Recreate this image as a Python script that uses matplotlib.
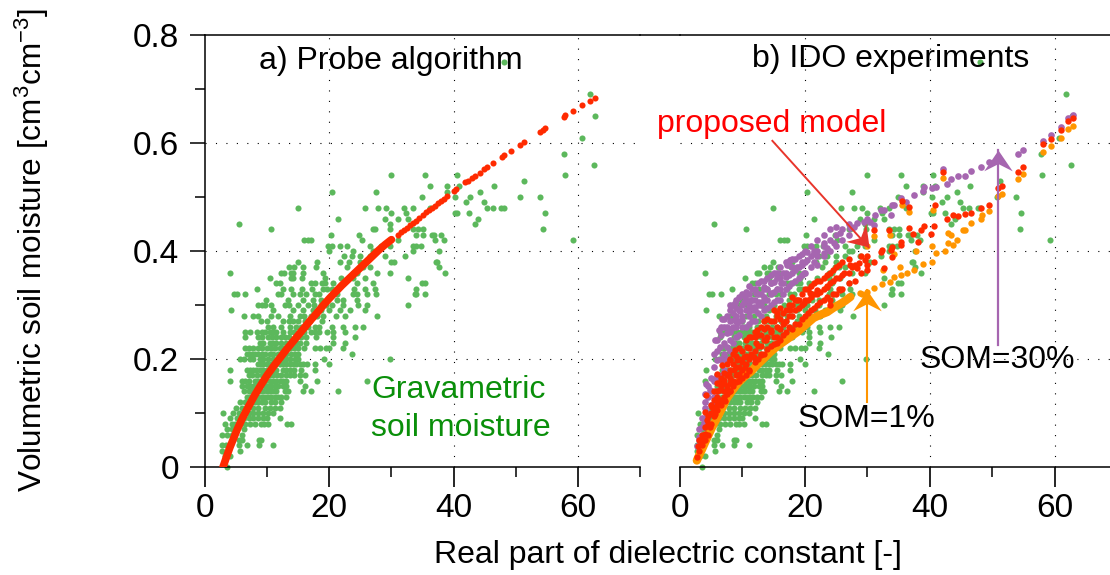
import math

import matplotlib
matplotlib.use('Agg')
import matplotlib.pyplot as plt
from matplotlib.lines import Line2D
from matplotlib.path import Path
from matplotlib.transforms import Affine2D

plt.rcParams['font.family'] = ['Liberation Sans', 'DejaVu Sans']
plt.rcParams['mathtext.default'] = 'regular'

# gravimetric samples come in 0.01 steps, so x values are listed per moisture level
green_levels = [0.00, 0.02, 0.03, 0.04, 0.05, 0.06, 0.07, 0.08, 0.09, 0.10,
                0.11, 0.12, 0.13, 0.14, 0.15, 0.16, 0.17, 0.18, 0.19, 0.20,
                0.21, 0.22, 0.23, 0.24, 0.25, 0.26, 0.27, 0.28, 0.29, 0.30,
                0.31, 0.32, 0.33, 0.34, 0.35, 0.36, 0.37, 0.38, 0.39, 0.40,
                0.41, 0.42, 0.43, 0.44, 0.45, 0.46, 0.47, 0.48, 0.49, 0.50,
                0.51, 0.52, 0.53, 0.54, 0.56, 0.58, 0.61, 0.65, 0.69, 0.75]
green_x = [
    [3.5],
    [3.2, 4],
    [2.8, 5.6],
    [2.8, 3.3, 5.4, 6.8, 8.7, 11],
    [5.4, 5.9, 8.7, 9],
    [2.8, 3.5, 4.3, 5.9],
    [3.5, 4.3, 4.8, 6.2],
    [3.2, 4.3, 4.8, 5.6, 6.4, 7.2, 8, 9, 9.5, 10.2, 13.2, 13.8],
    [4, 5.1, 6.2, 7, 7.8, 8.6, 9.4, 9.9, 12],
    [2.9, 4.5, 5.4, 6.2, 7, 7.8, 8.6, 9.4, 10.2, 11],
    [5, 5.9, 6.7, 7.8, 8.6, 9.6, 10.4, 11.2, 12],
    [5.6, 6.4, 7.5, 8, 8.6, 9.1, 9.6, 10.7, 11.3, 12.3],
    [6.7, 7.2, 8, 8.6, 9.1, 9.6, 10.2, 10.7, 11.2, 11.7, 12.3, 13],
    [6.2, 7, 7.8, 8.3, 8.8, 9.4, 9.9, 10.4, 11, 11.5, 12.9, 13.4, 15.8, 17.1, 21.4],
    [5.9, 6.7, 7.2, 7.8, 8.3, 8.8, 9.6, 10.2, 10.7, 11.2, 11.8, 12.6, 13.1, 16.1],
    [4, 5.9, 6.4, 7, 8, 8.5, 9.1, 9.6, 10.4, 11, 11.5, 12, 12.6, 13.1, 15.3, 18, 26],
    [7, 7.6, 8.3, 9.1, 9.6, 10.4, 11, 11.6, 12.2, 13.1, 13.7, 14.3, 15.3, 16.1],
    [4.1, 6.7, 7.2, 7.7, 8.2, 8.8, 9.4, 9.9, 10.4, 11, 11.5, 12.6, 13.1, 13.7, 14.3, 15.5, 17.7],
    [8.6, 9, 9.4, 10, 10.7, 11.2, 12, 12.5, 13.1, 13.6, 14.2, 14.7, 15.3, 15.8, 16.4, 17.7, 20],
    [5.6, 6.2, 7.2, 7.8, 8.8, 9.4, 10.2, 11, 12, 12.7, 13.1, 13.7, 14.5, 15, 19.2, 29.8],
    [6.7, 7, 7.5, 8, 8.6, 9.1, 9.6, 10.4, 11, 11.7, 12.3, 13, 13.9, 14.5, 15, 23.7],
    [6.4, 7, 7.8, 8.5, 9.1, 10, 10.7, 11.3, 12, 12.6, 13.7, 14.4, 15, 16, 17.7, 18.5, 19.4, 20, 22.2],
    [8.8, 9.4, 10.4, 11, 11.5, 12.2, 13, 13.9, 14.6, 15.3, 16.2, 20.6, 22.5],
    [6.4, 8.6, 9.1, 10.2, 10.8, 11.5, 12.2, 12.9, 13.5, 14.7, 15.4, 16.3, 17.9, 20.6, 24.2],
    [6.4, 7.2, 8.3, 9.1, 9.7, 10.4, 11, 11.5, 12.6, 13.7, 14.3, 15.3, 16, 17.1, 17.7, 18.3, 19.6, 20.6, 22.5],
    [10.2, 11, 12.3, 13.7, 14.7, 15.5, 16.5, 17.7, 18.3, 20.4, 22.2, 24.1, 25.4],
    [9, 10, 12.5, 13.5, 14.2, 15, 16.1, 16.9, 18.8],
    [6.3, 7.8, 8.5, 10.6, 11.8, 13.7, 15.3, 16, 17.1, 18, 19, 21, 22.5, 27.7],
    [4.2, 10.9, 14.2, 15.8, 17.4, 18.7, 20, 21.7, 23.3, 25.7],
    [8.6, 9.2, 9.6, 10.7, 12.9, 13.5, 15, 16.6, 17.5, 18.7, 19.5, 20.4, 22.2, 24.7, 26, 32.6],
    [9.8, 13.4, 15.8, 17.4, 18.7, 21.2, 22.2, 24.4],
    [4.6, 5.1, 6.5, 11.8, 12.3, 14.2, 15.3, 16.2, 17.7, 18.3, 21.2, 23.8, 24.5, 26, 27.5, 33.8, 34, 35.4],
    [8.3, 12.6, 13.9, 15.6, 17.2, 19, 19.6, 20.4, 24, 25.7, 27.3, 33.9],
    [11.5, 12, 17.1, 17.7, 18.8, 19.3, 20.6, 24.4, 27, 34.9, 35.4],
    [10.4, 13.9, 14.2, 15.6, 19.3, 21.9, 23.8, 25.7, 32.7],
    [4, 12.3, 12.7, 13.9, 14.2, 15.8, 19, 23.8, 24.4, 27.6, 29.7, 38.6],
    [13.5, 14.4, 15.7, 17.8, 22.8, 24.9, 25.5, 26.5, 37.7],
    [14.9, 18, 21.8, 23.2, 25, 30, 30.4, 37.2, 37.3],
    [22.3, 23.6, 25, 26.5, 28.9, 32.2],
    [20, 23.8, 27, 27.6, 33.5, 37.6],
    [19.8, 20.4, 21.8, 22.9, 26.5, 28.4, 29.7, 33.5, 34, 34.8],
    [16, 16.6, 17.1, 25.2, 31, 37, 38.5, 59.2],
    [20.2, 24.8, 34, 35.1, 36.6, 36.9, 38],
    [10.6, 27.1, 27.3, 29.8, 33.5, 34.3, 35.1, 54.4],
    [5.4, 29.7, 43.4],
    [21.4, 28.9, 31.1, 32.7, 44],
    [30, 32.3, 40.2, 40.6, 42.5, 54.7],
    [14.95, 25.8, 27.8, 29.2, 32, 33.5, 36.2, 45.4, 46.3, 47.7, 48.1],
    [42, 44.9],
    [34.9, 40.3, 42.7, 50.7, 53.9],
    [20.4, 27.5, 38.9, 44.3],
    [36.2, 39, 40.8, 46.5],
    [51.3],
    [30, 35.4, 40.6, 58],
    [62.6],
    [57.8],
    [60.7],
    [62.8],
    [61.9],
    [48.1],
]

# panel a: probe calibration, dense part then the separate dots at high permittivity
probe_line_x = [2.9, 3.2, 3.5, 4, 4.6, 5.2, 6, 7, 8, 9, 10, 11, 12, 13, 14, 15, 16, 17, 18,
                19, 20, 21, 22, 23, 24, 25, 26, 27, 28, 29, 30]
probe_line_y = [0, 0.01, 0.02, 0.036, 0.053, 0.07, 0.09, 0.112, 0.133, 0.152, 0.17,
                0.186, 0.201, 0.216, 0.23, 0.244, 0.258, 0.272, 0.285, 0.299, 0.312,
                0.324, 0.336, 0.347, 0.358, 0.369, 0.38, 0.391, 0.402, 0.412, 0.421]
probe_dot_x = [31, 31.5, 32, 32.5, 33, 33.5, 34, 34.5, 35, 35.5, 36, 36.5, 37, 37.5, 38,
               38.5, 39, 40, 40.4, 41.9, 42.3, 42.9, 43.4, 44.2, 44.9, 45.4, 46.4, 47.8,
               48.1, 49.3, 50.7, 51.3, 53.9, 54.4, 54.7, 57.7, 58, 59.2, 60.7, 61.9, 62.8]
probe_dot_y = [0.43, 0.435, 0.438, 0.443, 0.448, 0.451, 0.456, 0.462, 0.467, 0.472, 0.476,
               0.48, 0.484, 0.488, 0.493, 0.497, 0.502, 0.512, 0.515, 0.527, 0.53, 0.535,
               0.539, 0.545, 0.551, 0.555, 0.563, 0.574, 0.577, 0.586, 0.597, 0.601,
               0.621, 0.625, 0.627, 0.649, 0.651, 0.66, 0.67, 0.678, 0.684]

# panel b: the orange run is continuous below x=27
orange_line_x = [2.7, 3, 3.5, 4, 4.6, 5.2, 5.9, 6.7, 7.5, 8.4, 9.4, 10.3, 11.3, 12.1, 12.9,
                 13.7, 14.5, 15.5, 16.6, 17.7, 18.8, 19.8, 20.6, 21.4, 22.5, 23.6, 24.6,
                 25.7, 26.5, 27.3]
orange_line_y = [0.012, 0.02, 0.032, 0.045, 0.06, 0.075, 0.09, 0.108, 0.127, 0.142, 0.157,
                 0.167, 0.176, 0.186, 0.195, 0.204, 0.213, 0.223, 0.232, 0.241, 0.25,
                 0.26, 0.268, 0.276, 0.282, 0.287, 0.295, 0.302, 0.308, 0.315]
orange_x = [28.9, 29.2, 30, 31.1, 32.4, 33.7, 34.3, 35.4, 36.4, 37.5,
            38.9, 40.4, 41, 42.5, 43.7, 42.9, 44.3, 43, 43.4, 45.3, 45.7, 46.6, 48.2,
            48.3, 49.5, 50.9, 51.5, 54.2, 54.9, 58.1, 59.5, 61, 62.2, 63,
            30, 31.1, 33.6, 35.5, 36.7, 40.5, 42.2, 40.4, 37.8, 35.3, 32.5, 34.3]
orange_y = [0.322, 0.32, 0.325, 0.331, 0.339, 0.343, 0.351, 0.356, 0.359, 0.365, 0.376,
            0.38, 0.396, 0.4, 0.411, 0.414, 0.42, 0.434, 0.43, 0.439, 0.439, 0.452,
            0.46, 0.467, 0.474, 0.502, 0.506, 0.533, 0.542, 0.584, 0.595, 0.61, 0.626,
            0.631, 0.41, 0.428, 0.43, 0.485, 0.472, 0.476, 0.536, 0.41, 0.4, 0.371,
            0.365, 0.394]

red_x = [2.7, 2.9, 3.2, 3.8, 4, 4, 4.2, 4.3, 4.8, 5.1, 5.6, 5.9, 5.9, 6, 6.2, 6.4, 6.7, 7,
         7, 7.2, 7.5, 7.8, 8, 8, 8, 8.6, 8.8, 9.1, 9.4, 9.6, 10.2, 10.4, 10.7, 11, 11.3,
         11.3, 11.8, 12.1, 12.3, 12.9, 13.7, 14.5, 15.5, 15.5, 16.6, 17.7, 18.8, 19.8,
         20.9, 22, 23.6, 24.1, 25.7, 26.3, 27.3, 27.6, 28.4, 28.7, 29.7, 30, 31.1,
         31.1, 32.2, 32.4, 32.7, 33.5, 33.8, 34, 34, 35.4, 35.4, 35.5, 36.7, 36.7,
         37.3, 38.2, 38.6, 39.1, 40.2, 40.7, 40.8, 42.2, 42.7, 43.7, 44.5, 45.6, 46.6,
         48.2, 49.5, 50.9, 51.5, 54.2, 54.9, 58.1, 59.5, 61, 62.2, 63]
red_y = [0.019, 0.038, 0.05, 0.05, 0.062, 0.101, 0.133, 0.087, 0.075, 0.112, 0.099, 0.124,
         0.173, 0.13, 0.155, 0.143, 0.189, 0.13, 0.161, 0.122, 0.143, 0.173, 0.155, 0.198,
         0.14, 0.179, 0.217, 0.198, 0.173, 0.165, 0.204, 0.186, 0.223, 0.179, 0.241,
         0.21, 0.204, 0.229, 0.254, 0.21, 0.235, 0.254, 0.229, 0.285, 0.266, 0.291,
         0.309, 0.303, 0.322, 0.328, 0.334, 0.3, 0.328, 0.359, 0.374, 0.371, 0.368,
         0.377, 0.383, 0.39, 0.38, 0.439, 0.399, 0.402, 0.369, 0.439, 0.402, 0.408,
         0.388, 0.411, 0.417, 0.493, 0.482, 0.442, 0.431, 0.417, 0.439, 0.447, 0.431,
         0.447, 0.485, 0.547, 0.46, 0.467, 0.464, 0.469, 0.47, 0.479, 0.486, 0.517,
         0.52, 0.547, 0.556, 0.598, 0.607, 0.624, 0.641, 0.646]

# filling of the dense part of the red band, moisture values listed per x column
red_band_x = [3, 3.5, 4, 4.5, 5, 5.5, 6, 6.5, 7, 7.5, 8, 8.5, 9, 9.5, 10, 10.5, 11, 12,
              12.5, 13, 13.5, 14, 14.5, 15, 15.5, 16, 16.5, 17, 17.5, 18, 18.5, 19, 19.5,
              20, 20.5, 21, 21.5, 22, 22.5, 23, 23.5, 24, 24.5, 25, 25.5, 26, 27, 28, 29, 30]
red_band_y = [
    [0.03, 0.05], [0.04, 0.06], [0.05, 0.075], [0.06, 0.08, 0.095], [0.08, 0.1, 0.115],
    [0.095, 0.105, 0.125, 0.14], [0.105, 0.115, 0.14, 0.155], [0.115, 0.125, 0.15, 0.165],
    [0.125, 0.14, 0.155, 0.175], [0.135, 0.15, 0.17, 0.19], [0.14, 0.165, 0.18, 0.2],
    [0.15, 0.16, 0.19, 0.21], [0.158, 0.17, 0.185, 0.205], [0.16, 0.185, 0.2, 0.22],
    [0.165, 0.18, 0.195, 0.215], [0.17, 0.19, 0.205, 0.235], [0.178, 0.2, 0.22, 0.24],
    [0.195, 0.215, 0.24, 0.25], [0.2, 0.225, 0.245], [0.208, 0.225, 0.245, 0.26],
    [0.21, 0.235, 0.255, 0.27], [0.218, 0.24, 0.26, 0.275], [0.225, 0.25, 0.27],
    [0.228, 0.24, 0.27, 0.29], [0.24, 0.26, 0.28], [0.235, 0.255, 0.275, 0.295],
    [0.245, 0.265, 0.285], [0.25, 0.27, 0.29], [0.26, 0.28, 0.3],
    [0.255, 0.28, 0.3, 0.315], [0.265, 0.29, 0.31], [0.265, 0.295, 0.31],
    [0.275, 0.3, 0.32], [0.28, 0.31, 0.33], [0.285, 0.31, 0.33],
    [0.29, 0.315, 0.335], [0.295, 0.32, 0.34], [0.3, 0.32, 0.345], [0.305, 0.325, 0.345],
    [0.31, 0.33, 0.35], [0.315, 0.335, 0.355], [0.31, 0.34, 0.36], [0.32, 0.345, 0.365],
    [0.32, 0.35, 0.37], [0.33, 0.35, 0.375], [0.33, 0.355, 0.38], [0.34, 0.36, 0.385],
    [0.345, 0.375], [0.36, 0.39], [0.365, 0.375],
]

purple_x = [2.7, 3, 3.8, 4.3, 4, 4.2, 4.8, 5.4, 5.4, 5.6, 5.9, 5.9, 6.2, 6.4, 6.7, 6.7, 7,
            7.5, 7.5, 8, 8, 8.3, 8.6, 8.8, 9.1, 9.6, 9.9, 10.2, 10.4, 11, 11.3, 11.8,
            12.1, 12.6, 13.4, 13.4, 14.5, 14.5, 15, 15.5, 16.1, 16.9, 17.2, 17.7, 17.7,
            18, 18.8, 19.6, 19.8, 20.4, 20.4, 21.4, 22, 23, 23, 23.6, 24.6, 25.7, 27.3,
            27.9, 28.4, 29.5, 30, 30.5, 31.1, 31.2, 32.2, 32.7, 33.8, 34, 34.3, 35.4,
            36.2, 37.5, 38.9, 39.1, 40.4, 41, 42.2, 42.7, 43.4, 44.5, 45.6, 46.6, 48.2,
            49.5, 50.9, 54.1, 54.9, 58.1, 59.5, 61, 62.2, 63]
purple_y = [0.038, 0.056, 0.081, 0.099, 0.121, 0.153, 0.143, 0.118, 0.161, 0.236, 0.167,
            0.198, 0.254, 0.223, 0.275, 0.198, 0.21, 0.248, 0.223, 0.291, 0.235, 0.257,
            0.272, 0.303, 0.266, 0.288, 0.272, 0.306, 0.315, 0.288, 0.309, 0.297, 0.322,
            0.306, 0.315, 0.334, 0.322, 0.34, 0.343, 0.359, 0.34, 0.352, 0.374, 0.383,
            0.383, 0.359, 0.371, 0.38, 0.359, 0.383, 0.399, 0.396, 0.39, 0.396, 0.414,
            0.405, 0.414, 0.433, 0.442, 0.445, 0.451, 0.454, 0.46, 0.454, 0.449, 0.467,
            0.476, 0.476, 0.467, 0.485, 0.485, 0.498, 0.491, 0.504, 0.512, 0.519, 0.516,
            0.519, 0.551, 0.525, 0.533, 0.538, 0.539, 0.548, 0.555, 0.564, 0.575, 0.58,
            0.587, 0.604, 0.615, 0.629, 0.646, 0.652]

purple_band_x = [3, 3.5, 4, 4.5, 5, 5.5, 6, 6.5, 7, 7.5, 8, 8.5, 9, 9.5, 10, 10.5, 11, 11.5,
                 12, 12.5, 13, 13.5, 14, 14.5, 15, 15.5, 16, 16.5, 17, 17.5, 18, 18.5, 19,
                 19.5, 20, 21, 21.5, 22, 23, 24, 25, 26, 27]
purple_band_y = [
    [0.05, 0.07], [0.075, 0.09], [0.09, 0.11, 0.135], [0.1, 0.13, 0.15], [0.115, 0.14, 0.165],
    [0.13, 0.16, 0.185, 0.21], [0.14, 0.17, 0.215, 0.235], [0.17, 0.2, 0.245, 0.26],
    [0.18, 0.23, 0.26, 0.275], [0.2, 0.26, 0.28], [0.215, 0.25, 0.27, 0.3],
    [0.23, 0.26, 0.285, 0.3], [0.24, 0.26, 0.28, 0.295, 0.31], [0.245, 0.27, 0.29, 0.315],
    [0.26, 0.28, 0.3, 0.32], [0.26, 0.29, 0.31, 0.325], [0.265, 0.28, 0.3, 0.32, 0.335],
    [0.27, 0.29, 0.31, 0.33], [0.27, 0.29, 0.31, 0.33], [0.285, 0.3, 0.32, 0.34],
    [0.28, 0.3, 0.32, 0.345], [0.29, 0.31, 0.33, 0.345], [0.295, 0.31, 0.33, 0.35],
    [0.3, 0.32, 0.34, 0.355], [0.305, 0.325, 0.36], [0.31, 0.33, 0.35],
    [0.31, 0.33, 0.35, 0.37], [0.32, 0.34, 0.36], [0.33, 0.36, 0.38], [0.335, 0.355, 0.375],
    [0.34, 0.37, 0.385], [0.345, 0.365, 0.385], [0.35, 0.37, 0.39], [0.355, 0.375, 0.395],
    [0.36, 0.38, 0.4], [0.37, 0.39, 0.41], [0.38, 0.4], [0.375, 0.4, 0.42], [0.39, 0.41, 0.43],
    [0.4, 0.42, 0.44], [0.41, 0.43, 0.445], [0.42, 0.44], [0.43, 0.45],
]

x_ticks = [0, 20, 40, 60]
y_ticks = [0, 0.2, 0.4, 0.6, 0.8]
y_tick_labels = ['0', '0.2', '0.4', '0.6', '0.8']

GREEN = '#5cb85c'
RED = '#ff2a00'
ORANGE = '#ff9500'
PURPLE = '#a666b0'
FS = 23
TICK_FS = 24


def flatten(cols, rows):
    xs = [c for c, row in zip(cols, rows) for _ in row]
    ys = [v for row in rows for v in row]
    return xs, ys


def setup_axes(ax, show_y):
    ax.set_xlim(0, 70)
    ax.set_ylim(0, 0.8)
    ax.set_xticks(x_ticks)
    ax.set_xticks([10, 30, 50, 70], minor=True)
    ax.set_yticks(y_ticks)
    ax.set_yticklabels(y_tick_labels)
    ax.set_yticks([0.1, 0.3, 0.5, 0.7], minor=True)
    ax.spines['right'].set_visible(False)
    ax.spines['left'].set_visible(show_y)
    for side in ax.spines:
        ax.spines[side].set_linewidth(1.1)
    ax.tick_params(axis='x', which='major', length=14.5, width=1.2, pad=4, labelsize=TICK_FS)
    ax.tick_params(axis='x', which='minor', length=7.2, width=1.1)
    if show_y:
        ax.tick_params(axis='y', which='major', length=10.8, width=1.1, pad=8, labelsize=TICK_FS)
        ax.tick_params(axis='y', which='minor', length=7.2, width=1.1)
    else:
        ax.tick_params(axis='y', which='both', left=False, labelleft=False)
    for v in [20, 40, 60]:
        ax.axvline(v, color='black', lw=0.8, ls=(0, (1, 8.4)), zorder=1)
    for v in [0.2, 0.4, 0.6]:
        ax.axhline(v, color='black', lw=0.8, ls=(0, (1, 8.4)), zorder=1)


def arrow(ax, tail, tip, color, lw, size):
    ax.plot([tail[0], tip[0]], [tail[1], tip[1]], color=color, lw=lw, zorder=6)
    p0 = ax.transData.transform(tail)
    p1 = ax.transData.transform(tip)
    angle = math.atan2(p1[1] - p0[1], p1[0] - p0[0]) - math.pi / 2
    verts = [(0, 0), (-0.65, -0.95), (0, -0.62), (0.65, -0.95), (0, 0)]
    codes = [Path.MOVETO, Path.LINETO, Path.LINETO, Path.LINETO, Path.CLOSEPOLY]
    head = Path(verts, codes).transformed(Affine2D().rotate(angle))
    ax.plot([tip[0]], [tip[1]], marker=head, ms=size, color=color, mew=0, zorder=6)


def main():
    fig = plt.figure(figsize=(11.1, 5.75), dpi=100)
    ax1 = fig.add_axes([205 / 1110, 108 / 575, 435 / 1110, 432 / 575])
    ax2 = fig.add_axes([680 / 1110, 108 / 575, 437 / 1110, 432 / 575])
    setup_axes(ax1, True)
    setup_axes(ax2, False)

    gy, gx = flatten(green_levels, green_x)
    rx, ry = flatten(red_band_x, red_band_y)
    px, py = flatten(purple_band_x, purple_band_y)

    for ax in (ax1, ax2):
        ax.plot(gx, gy, ls='none', marker='o', ms=4.4, mew=0, color=GREEN, zorder=2, clip_on=False)

    ax1.plot(probe_line_x, probe_line_y, color=RED, lw=5.5, solid_capstyle='round', zorder=3)
    ax1.plot(probe_dot_x, probe_dot_y, ls='none', marker='o', ms=4.4, mew=0, color=RED, zorder=3)

    ax2.plot(purple_x + px, purple_y + py, ls='none', marker='o', ms=4.8, mew=0, color=PURPLE, zorder=3)
    ax2.plot(orange_line_x, orange_line_y, color=ORANGE, lw=6, solid_capstyle='round', zorder=4)
    ax2.plot(orange_x, orange_y, ls='none', marker='o', ms=4.6, mew=0, color=ORANGE, zorder=4)
    ax2.plot(red_x + rx, red_y + ry, ls='none', marker='o', ms=4.6, mew=0, color=RED, zorder=5)

    arrow(ax2, (14.8, 0.604), (30.2, 0.407), '#e8352b', 1.4, 34)
    arrow(ax2, (29.9, 0.12), (29.9, 0.328), ORANGE, 1.5, 30)
    arrow(ax2, (51, 0.226), (51, 0.587), PURPLE, 1.6, 30)

    ax1.set_ylabel('Volumetric soil moisture [cm$^{3}$cm$^{-3}$]', fontsize=22.7)
    ax1.yaxis.set_label_coords(51 / 1110, 325 / 575, transform=fig.transFigure)

    fig.text(668 / 1110, 20 / 575, 'Real part of dielectric constant [-]', fontsize=FS,
             ha='center', va='center')
    fig.add_artist(Line2D([640 / 1110, 680 / 1110], [540 / 575, 540 / 575], color='black', lw=1.1))

    fig.text(259 / 1110, 514 / 575, 'a) Probe algorithm', fontsize=FS, va='center')
    fig.text(752 / 1110, 516 / 575, 'b) IDO experiments', fontsize=FS, va='center')
    fig.text(371 / 1110, 185 / 575, 'Gravametric', fontsize=FS, va='center', color='#0a8f0a')
    fig.text(371 / 1110, 147 / 575, 'soil moisture', fontsize=FS, va='center', color='#0a8f0a')
    fig.text(657 / 1110, 451 / 575, 'proposed model', fontsize=FS, va='center', color='#ff0000')
    fig.text(798 / 1110, 156 / 575, 'SOM=1%', fontsize=FS, va='center')
    fig.text(920 / 1110, 215 / 575, 'SOM=30%', fontsize=FS, va='center')

    fig.savefig('out.png', dpi=100)


if __name__ == '__main__':
    main()
